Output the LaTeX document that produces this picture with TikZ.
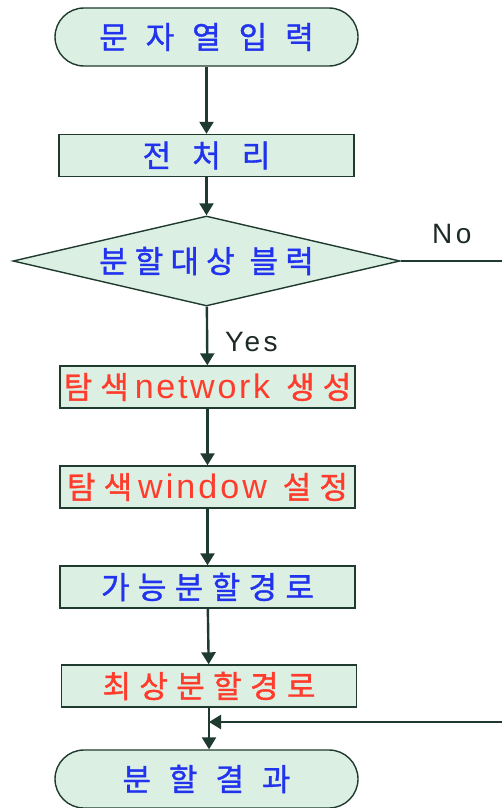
\documentclass[tikz,border=0pt]{standalone}
\usepackage{fontspec}
\usetikzlibrary{shapes.geometric,arrows.meta}
\newfontfamily\kr{Noto Sans CJK KR}[FakeBold=1.2]
\newfontfamily\lat{Liberation Sans}
\definecolor{boxfill}{HTML}{DCEFE3}
\definecolor{edge}{HTML}{1F3A2E}
\definecolor{kblue}{HTML}{2233EE}
\definecolor{kred}{HTML}{FF3B2B}
\definecolor{lbl}{HTML}{1E2A26}
\newcommand\ks[2]{{\kr\addfontfeature{LetterSpace=#1}#2}}
\newcommand\ls[2]{{\lat\addfontfeature{LetterSpace=#1}#2}}
\begin{document}
\begin{tikzpicture}[x=1pt,y=-1pt,
 base/.style={draw=edge, line width=1.4pt, fill=boxfill, inner sep=0pt, font=\fontsize{31}{34}\selectfont},
 term/.style={base, rectangle, rounded corners=29pt, minimum width=303pt, minimum height=58pt},
 proc/.style={base, rectangle, minimum width=295pt, minimum height=42pt},
 dec/.style={base, diamond, aspect=4.3, minimum width=387pt, minimum height=90pt},
 flow/.style={draw=edge, line width=2.4pt, -{Triangle[width=14pt,length=12pt]}},
 wire/.style={draw=edge, line width=2.4pt},
 lab/.style={text=lbl, font=\fontsize{28}{30}\selectfont, inner sep=0pt}
]
\useasboundingbox (0,0) rectangle (502,808);
\node[term,text=kblue] (start) at (206.5,37) {\ks{58}{문자열입력}};
\node[proc,text=kblue] (pre) at (206.5,155.5) {\ks{68}{전처리}};
\node[dec,text=kblue] (blk) at (206.5,261) {\ks{23}{분할대상}\hspace{15pt}\ks{23}{블럭}};
\node[proc,text=kred] (net) at (207.5,387) {\ks{26}{탐색}\hspace{6pt}{\fontsize{34}{34}\selectfont\ls{8}{network}}\hspace{16pt}\ks{26}{생성}};
\node[proc,text=kred] (win) at (207.5,487) {\ks{26}{탐색}\hspace{6pt}{\fontsize{34}{34}\selectfont\ls{9}{window}}\hspace{16pt}\ks{26}{설정}};
\node[proc,text=kblue] (pos) at (207.5,587) {\ks{27}{가능분할경로}};
\node[proc,text=kred] (best) at (209,686) {\ks{27}{최상분할경로}};
\node[term,text=kblue] (res) at (206.5,779) {\ks{58}{분할결과}};
\draw[flow] (start) -- (pre);
\draw[flow] (pre) -- (blk);
\draw[flow] (blk) -- (net);
\draw[flow] (net) -- (win);
\draw[flow] (win) -- (pos);
\draw[flow] (pos) -- (best);
\draw[flow] (best.south) -- (best.south |- res.north);
\coordinate (noend) at (502,261);
\draw[wire] (blk.east) -- (noend);
\node[lab, anchor=base west] (nolab) at (432,243) {\ls{12}{No}};
\node[lab, anchor=base west] (yeslab) at (225,351) {\ls{12}{Yes}};
\coordinate (retin) at (502,722);
\coordinate (join) at (best.south |- retin);
\draw[flow] (retin) -- (join);
\end{tikzpicture}
\end{document}
